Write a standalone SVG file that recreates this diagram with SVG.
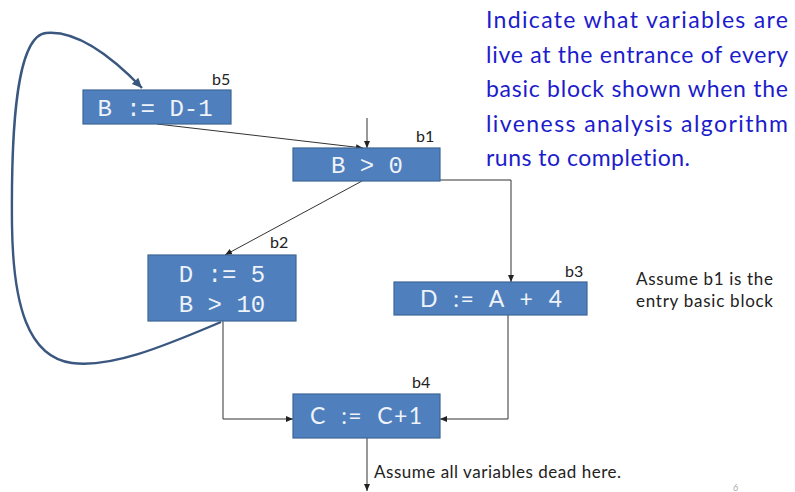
<svg xmlns="http://www.w3.org/2000/svg" width="795" height="492" viewBox="0 0 795 492">
<style>
text{font-variant-ligatures:none}
.box{fill:#4f7fbd;stroke:#3d6696;stroke-width:1.2}
.mono{font-family:"Liberation Mono","DejaVu Sans Mono",monospace;font-size:24px;fill:#eef3fa;text-anchor:middle;white-space:pre}
.sans{font-family:Lato,"Open Sans",sans-serif;fill:#eef3fa;text-anchor:middle;white-space:pre}
.lbl{font-family:Lato,"Open Sans",sans-serif;font-size:16px;fill:#222}
.note{font-family:Lato,"Open Sans",sans-serif;font-size:17px;fill:#222}
.blue{font-family:Lato,"Open Sans",sans-serif;font-size:23px;fill:#1c1ccc}
.edge{fill:none;stroke:#333;stroke-width:1}
</style>
<defs>
<marker id="ah" markerWidth="8" markerHeight="8" refX="7" refY="4" orient="auto" markerUnits="userSpaceOnUse">
<path d="M0,1 L7,4 L0,7 Z" fill="#222"/>
</marker>
<marker id="ahb" markerWidth="12" markerHeight="12" refX="10" refY="6" orient="auto" markerUnits="userSpaceOnUse">
<path d="M0,1.5 L10,6 L0,10.5 Z" fill="#3a5780"/>
</marker>
</defs>
<g id="connectors">
<path class="edge" d="M367,118 L367,148" marker-end="url(#ah)"/>
<path class="edge" d="M157,124 L363,148" marker-end="url(#ah)"/>
<path class="edge" d="M362,181 L225,255" marker-end="url(#ah)"/>
<path class="edge" d="M440,180 L511,180 L511,282" marker-end="url(#ah)"/>
<path class="edge" d="M223,321 L223,419 L293,419" marker-end="url(#ah)"/>
<path class="edge" d="M508,315 L508,419 L440,419" marker-end="url(#ah)"/>
<path class="edge" d="M367,438 L367,491" marker-end="url(#ah)"/>
<path d="M221,322 C160,348 110,368 72,363 C28,357 13,305 12,225 C11,130 16,36 46,33 C78,30 115,60 142,88" fill="none" stroke="#3a5780" stroke-width="2.4" marker-end="url(#ahb)"/>
</g>
<g id="b5">
<rect class="box" x="83" y="90" width="148" height="34"/>
<text class="mono" x="155" y="116" font-size="25">B := D-1</text>
<text class="lbl" x="212" y="85">b5</text>
</g>
<g id="b1">
<rect class="box" x="293" y="148" width="147" height="33"/>
<text class="mono" x="367" y="173">B &gt; 0</text>
<text class="lbl" x="416" y="142">b1</text>
</g>
<g id="b2">
<rect class="box" x="148" y="255" width="148" height="66"/>
<text class="mono" x="222" y="282">D := 5</text>
<text class="mono" x="222" y="312">B &gt; 10</text>
<text class="lbl" x="270" y="248">b2</text>
</g>
<g id="b3">
<rect class="box" x="394" y="282" width="193" height="33"/>
<text class="sans" x="491" y="307" font-size="23" textLength="142" lengthAdjust="spacing">D  :=  A  +  4</text>
<text class="lbl" x="565" y="277">b3</text>
</g>
<g id="b4">
<rect class="box" x="293" y="394" width="147" height="44"/>
<text class="sans" x="366" y="424" font-size="23" textLength="112" lengthAdjust="spacing">C  :=  C+1</text>
<text class="lbl" x="412" y="388">b4</text>
</g>
<g id="texts">
<text class="blue" x="486" y="28" textLength="302" lengthAdjust="spacing">Indicate what variables are</text>
<text class="blue" x="486" y="63" textLength="302" lengthAdjust="spacing">live at the entrance of every</text>
<text class="blue" x="486" y="97" textLength="302" lengthAdjust="spacing">basic block shown when the</text>
<text class="blue" x="486" y="132" textLength="302" lengthAdjust="spacing">liveness analysis algorithm</text>
<text class="blue" x="486" y="166" textLength="204" lengthAdjust="spacing">runs to completion.</text>
<text class="note" x="636" y="285" textLength="137" lengthAdjust="spacing">Assume b1 is the</text>
<text class="note" x="636" y="307" textLength="137" lengthAdjust="spacing">entry basic block</text>
<text class="note" x="374" y="478" textLength="247" lengthAdjust="spacing">Assume all variables dead here.</text>
<text x="733" y="491" font-family="Lato,sans-serif" font-size="9" fill="#aaa">6</text>
</g>
</svg>
